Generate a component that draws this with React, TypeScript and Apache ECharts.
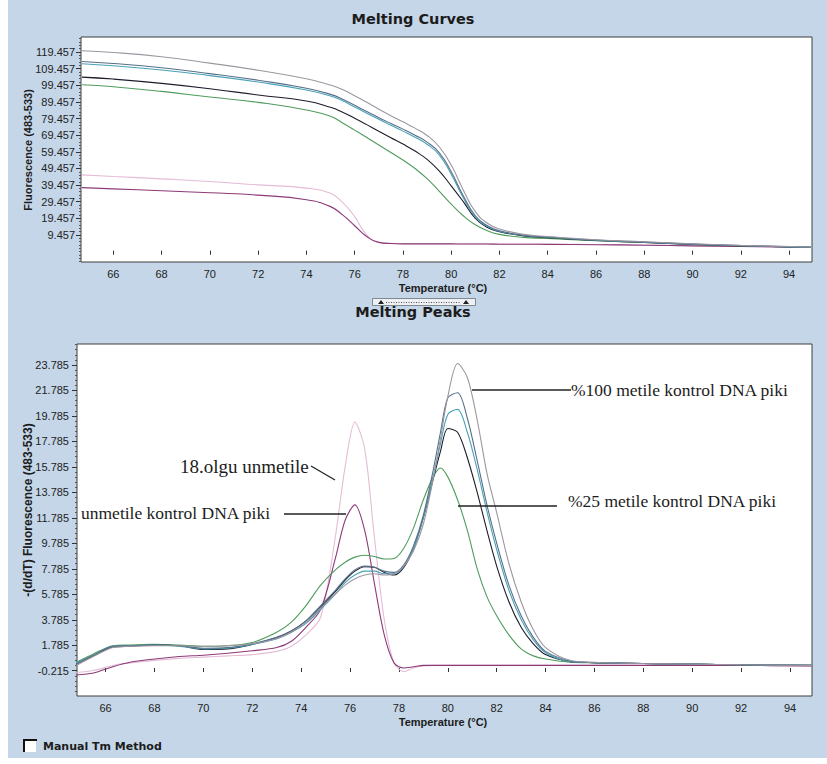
import React, { useEffect, useRef } from "react";
import * as echarts from "echarts";

// ---------- Melting Curves (top) ----------
const tempTop = [64.7, 66, 68, 70, 72, 74, 75, 75.5, 76, 76.5, 77, 77.5, 78, 78.5, 79, 79.5, 80, 80.5, 81, 81.5, 82, 83, 84, 86, 88, 90, 92, 94.9];
const curveGray = [120.2, 119.2, 116.6, 112.8, 108.5, 103.4, 99.6, 96.9, 93.2, 89.2, 85.1, 81.2, 77.5, 73.7, 69.3, 62.5, 51.5, 36.5, 23.5, 16.5, 13.0, 9.8, 8.5, 6.6, 5.4, 4.2, 3.2, 2.2];
const curveSlate = [113.8, 112.6, 110.0, 106.5, 102.5, 97.7, 94.0, 91.1, 87.4, 83.7, 80.0, 76.5, 73.1, 69.4, 65.3, 59.0, 47.5, 33.0, 21.0, 15.0, 12.0, 9.4, 8.2, 6.4, 5.2, 4.0, 3.1, 2.1];
const curveTeal = [112.4, 111.2, 108.7, 105.3, 101.4, 96.6, 93.0, 90.1, 86.4, 82.7, 79.0, 75.4, 71.9, 68.2, 64.0, 57.6, 46.0, 31.8, 20.2, 14.5, 11.7, 9.2, 8.1, 6.3, 5.1, 3.9, 3.0, 2.0];
const curveBlack = [104.4, 103.2, 100.6, 97.4, 93.6, 90.0, 86.2, 83.3, 79.7, 75.8, 71.8, 67.9, 64.1, 59.9, 54.9, 48.0, 39.0, 29.5, 19.5, 14.0, 11.4, 8.9, 7.8, 6.1, 5.0, 3.8, 2.9, 2.0];
const curveGreen = [99.8, 98.6, 95.8, 92.4, 89.2, 84.6, 80.8, 76.8, 72.5, 68.1, 63.6, 59.1, 54.5, 49.4, 43.3, 35.8, 28.0, 21.0, 15.6, 12.0, 9.8, 8.0, 7.4, 6.0, 4.9, 3.8, 2.9, 2.0];
const curvePink = [45.6, 44.6, 43.2, 41.6, 39.6, 37.6, 34.5, 29.0, 20.5, 9.5, 5.0, 4.4, 4.2, 4.2, 4.2, 4.2, 4.2, 4.1, 4.1, 4.1, 4.0, 4.0, 3.9, 3.7, 3.4, 3.0, 2.6, 2.1];
const curvePurple = [37.9, 37.2, 36.0, 34.8, 33.4, 30.6, 26.5, 21.5, 15.0, 8.5, 5.0, 4.3, 4.1, 4.1, 4.1, 4.1, 4.1, 4.0, 4.0, 4.0, 3.9, 3.9, 3.8, 3.6, 3.3, 2.9, 2.5, 2.0];

// ---------- Melting Peaks (bottom) ----------
const tempBot = [64.8, 65.5, 66.3, 67, 68, 69, 70, 71, 72, 73, 73.6, 74.2, 74.8, 75.4, 75.8, 76.2, 76.6, 77, 77.4, 77.8, 78.2, 78.6, 79, 79.4, 79.7, 80, 80.4, 80.8, 81.2, 81.6, 82, 82.5, 83, 83.5, 84, 85, 86, 88, 90, 92, 94.9];
const peakGray = [0.2, 0.9, 1.6, 1.7, 1.75, 1.75, 1.7, 1.75, 1.9, 2.3, 2.8, 3.6, 4.7, 5.8, 6.5, 7.0, 7.3, 7.4, 7.3, 7.4, 8.0, 9.2, 11.3, 14.8, 18.0, 21.3, 23.9, 22.8, 19.5, 15.3, 12.2, 8.2, 5.2, 3.0, 1.6, 0.6, 0.45, 0.35, 0.3, 0.25, 0.2];
const peakSlate = [0.3, 1.0, 1.7, 1.75, 1.8, 1.75, 1.55, 1.6, 1.9, 2.4, 2.9, 3.7, 4.9, 6.1, 7.0, 7.7, 8.0, 7.9, 7.6, 7.5, 8.1, 9.6, 12.0, 15.5, 18.5, 21.2, 21.6, 19.6, 16.3, 12.8, 9.8, 6.5, 4.1, 2.4, 1.3, 0.55, 0.42, 0.35, 0.3, 0.25, 0.2];
const peakTeal = [0.4, 1.0, 1.7, 1.75, 1.8, 1.7, 1.5, 1.55, 1.85, 2.3, 2.8, 3.5, 4.6, 5.8, 6.7, 7.3, 7.6, 7.6, 7.4, 7.4, 8.0, 9.4, 11.8, 15.0, 17.6, 19.9, 20.3, 18.5, 15.6, 12.3, 9.3, 6.1, 3.8, 2.2, 1.2, 0.5, 0.42, 0.35, 0.3, 0.25, 0.2];
const peakBlack = [0.3, 0.95, 1.65, 1.7, 1.8, 1.75, 1.45, 1.5, 1.85, 2.4, 2.9, 3.7, 4.8, 6.0, 6.9, 7.6, 7.95, 7.9, 7.5, 7.3, 7.9, 9.4, 11.8, 14.8, 17.0, 18.8, 18.5, 16.5, 13.8, 10.8, 8.0, 5.2, 3.2, 1.9, 1.05, 0.5, 0.42, 0.35, 0.3, 0.25, 0.2];
const peakGreen = [0.45, 1.1, 1.75, 1.8, 1.85, 1.8, 1.7, 1.75, 2.0, 2.8, 3.6, 4.9, 6.5, 7.7, 8.3, 8.7, 8.85, 8.75, 8.55, 8.6, 9.4, 11.0, 13.2, 15.0, 15.7, 15.0, 13.2, 10.8, 7.8, 5.6, 4.1, 2.6, 1.5, 0.95, 0.7, 0.45, 0.4, 0.35, 0.3, 0.25, 0.2];
const peakPink = [-0.35, -0.2, 0.2, 0.4, 0.6, 0.75, 0.85, 0.95, 1.05, 1.3, 1.7, 2.6, 4.0, 10.3, 15.8, 19.3, 17.2, 10.2, 3.8, 0.4, -0.3, 0.0, 0.15, 0.2, 0.2, 0.2, 0.2, 0.2, 0.2, 0.2, 0.2, 0.2, 0.2, 0.2, 0.2, 0.2, 0.2, 0.2, 0.2, 0.2, 0.15];
const peakPurple = [-0.55, -0.4, 0.1, 0.45, 0.7, 0.9, 1.0, 1.15, 1.35, 1.6, 2.1, 3.2, 4.6, 8.6, 11.6, 12.8, 10.8, 6.6, 2.6, 0.4, 0.0, 0.1, 0.2, 0.2, 0.2, 0.2, 0.2, 0.2, 0.2, 0.2, 0.2, 0.2, 0.2, 0.2, 0.2, 0.2, 0.2, 0.2, 0.2, 0.2, 0.15];

// ---------- ticks ----------
const xTicks = [66, 68, 70, 72, 74, 76, 78, 80, 82, 84, 86, 88, 90, 92, 94];
const yTicksTop = [9.457, 19.457, 29.457, 39.457, 49.457, 59.457, 69.457, 79.457, 89.457, 99.457, 109.457, 119.457];
const yTicksBot = [-0.215, 1.785, 3.785, 5.785, 7.785, 9.785, 11.785, 13.785, 15.785, 17.785, 19.785, 21.785, 23.785];

const COLORS = {
  gray: "#9d96a0",
  slate: "#56708a",
  teal: "#4aa2b6",
  black: "#1d1d2c",
  green: "#4f9c5c",
  pink: "#e4bcd6",
  purple: "#8c3a78",
};

const TOP = { xMin: 64.66, xMax: 94.95, yMin: -6.8, yMax: 128.5 };
const BOT = { xMin: 64.83, xMax: 94.9, yMin: -2.2, yMax: 25.43 };

function minorTicks(start: number, step: number, lo: number, hi: number) {
  const out: number[] = [];
  for (let k = -200; k <= 200; k++) {
    const v = +(start + step * k).toFixed(4);
    if (v > lo && v < hi) out.push(v);
  }
  return out;
}

const labelFont = { fontFamily: "Liberation Sans", fontSize: 11, color: "#222" };

function xAxis(grid: number, r: { xMin: number; xMax: number }) {
  return {
    type: "value",
    gridIndex: grid,
    min: r.xMin,
    max: r.xMax,
    axisLine: { show: false },
    splitLine: { show: false },
    axisTick: { show: true, customValues: xTicks, length: 4, lineStyle: { color: "#333" } },
    axisLabel: { customValues: xTicks, margin: 6, ...labelFont, formatter: (v: number) => String(v) },
  };
}

function yAxes(grid: number, r: { yMin: number; yMax: number }, ticks: number[], minorStep: number, margin: number) {
  return [
    {
      type: "value",
      gridIndex: grid,
      min: r.yMin,
      max: r.yMax,
      axisLine: { show: false },
      splitLine: { show: false },
      axisTick: { show: true, customValues: ticks, length: 5, lineStyle: { color: "#333" } },
      axisLabel: { customValues: ticks, margin, ...labelFont, formatter: (v: number) => v.toFixed(3) },
    },
    {
      type: "value",
      gridIndex: grid,
      min: r.yMin,
      max: r.yMax,
      position: "left",
      axisLine: { show: false },
      splitLine: { show: false },
      axisLabel: { show: false },
      axisTick: {
        show: true,
        customValues: minorTicks(ticks[0], minorStep, r.yMin, r.yMax).filter(
          (v) => !ticks.some((t) => Math.abs(t - v) < 1e-6)
        ),
        length: 2,
        lineStyle: { color: "#555" },
      },
    },
  ];
}

function line(xs: number[], ys: number[], color: string, xi: number, yi: number, smooth: number) {
  return {
    type: "line",
    xAxisIndex: xi,
    yAxisIndex: yi,
    data: xs.map((x, i) => [x, ys[i]]),
    showSymbol: false,
    symbol: "none",
    smooth,
    silent: true,
    lineStyle: { width: 1.1, color },
    itemStyle: { color },
  };
}

function txt(text: string, x: number, y: number, font: string, align = "left", extra: any = {}) {
  return {
    type: "text",
    x,
    y,
    z: 100,
    ...extra,
    style: {
      text,
      font,
      fill: "#1c1c1c",
      align,
      textAlign: align,
      verticalAlign: "middle",
      textVerticalAlign: "middle",
    },
  };
}

function seg(x1: number, y1: number, x2: number, y2: number, w = 1.3, color = "#222") {
  return { type: "line", z: 100, shape: { x1, y1, x2, y2 }, style: { stroke: color, lineWidth: w } };
}

const titleFont = 'bold 14.5px "DejaVu Sans"';
const axisNameFont = 'bold 11px "Liberation Sans"';
const serif = (s: number) => `${s}px "Liberation Serif"`;

const option = {
  animation: false,
  backgroundColor: "transparent",
  grid: [
    { left: 81, top: 37, width: 731, height: 225, show: true, backgroundColor: "#ffffff", borderColor: "#3e3e3e", borderWidth: 1 },
    { left: 77, top: 344, width: 735, height: 352, show: true, backgroundColor: "#ffffff", borderColor: "#3e3e3e", borderWidth: 1 },
  ],
  xAxis: [xAxis(0, TOP), xAxis(1, BOT)],
  yAxis: [...yAxes(0, TOP, yTicksTop, 2, 6), ...yAxes(1, BOT, yTicksBot, 0.4, 8)],
  series: [
    line(tempTop, curvePink, COLORS.pink, 0, 0, 0.5),
    line(tempTop, curvePurple, COLORS.purple, 0, 0, 0.5),
    line(tempTop, curveGreen, COLORS.green, 0, 0, 0.5),
    line(tempTop, curveBlack, COLORS.black, 0, 0, 0.5),
    line(tempTop, curveTeal, COLORS.teal, 0, 0, 0.5),
    line(tempTop, curveSlate, COLORS.slate, 0, 0, 0.5),
    line(tempTop, curveGray, COLORS.gray, 0, 0, 0.5),
    line(tempBot, peakPink, COLORS.pink, 1, 2, 0.3),
    line(tempBot, peakPurple, COLORS.purple, 1, 2, 0.3),
    line(tempBot, peakGreen, COLORS.green, 1, 2, 0.3),
    line(tempBot, peakBlack, COLORS.black, 1, 2, 0.3),
    line(tempBot, peakTeal, COLORS.teal, 1, 2, 0.3),
    line(tempBot, peakSlate, COLORS.slate, 1, 2, 0.3),
    line(tempBot, peakGray, COLORS.gray, 1, 2, 0.3),
  ],
  graphic: [
    // titles
    txt("Melting Curves", 413, 19, titleFont, "center"),
    txt("Melting Peaks", 413, 312, titleFont, "center"),
    // axis names
    txt("Temperature (°C)", 443, 288, axisNameFont, "center"),
    txt("Temperature (°C)", 443, 722, axisNameFont, "center"),
    txt("Fluorescence (483-533)", 28, 150, axisNameFont, "center", { rotation: Math.PI / 2 }),
    txt("-(d/dT) Fluorescence (483-533)", 28, 510, 'bold 12px "Liberation Sans"', "center", { rotation: Math.PI / 2 }),
    // scroll widget
    { type: "rect", z: 100, shape: { x: 372.5, y: 298.5, width: 103, height: 7 }, style: { fill: "#eef1f4", stroke: "#808890", lineWidth: 1 } },
    { type: "polygon", z: 101, shape: { points: [[378, 304], [384, 304], [381, 300]] }, style: { fill: "#222" } },
    { type: "polygon", z: 101, shape: { points: [[463, 304], [469, 304], [466, 300]] }, style: { fill: "#222" } },
    { type: "line", z: 101, shape: { x1: 386, y1: 302.5, x2: 461, y2: 302.5 }, style: { stroke: "#555", lineWidth: 1, lineDash: [1, 1.5] } },
    // checkbox
    { type: "rect", z: 100, shape: { x: 23, y: 739, width: 13, height: 13 }, style: { fill: "#ffffff" } },
    { type: "polyline", z: 101, shape: { points: [[24, 752], [24, 740], [37, 740]] }, style: { stroke: "#111", lineWidth: 2, fill: null } },
    txt("Manual Tm Method", 43, 746, 'bold 11px "DejaVu Sans"', "left"),
    // annotations
    txt("18.olgu unmetile", 180, 466, serif(19)),
    seg(311, 466, 335, 480),
    txt("unmetile kontrol DNA piki", 81, 513, serif(17.5)),
    seg(284, 514, 346, 514),
    txt("%100 metile kontrol DNA piki", 571, 390, serif(17.5)),
    seg(472, 390, 571, 390),
    txt("%25 metile kontrol DNA piki", 568, 501, serif(17.5)),
    seg(458, 506, 557, 506),
  ],
};

export default function App() {
  const ref = useRef<HTMLDivElement>(null);
  useEffect(() => {
    if (!ref.current) return;
    const chart = echarts.init(ref.current, null, { renderer: "svg" });
    chart.setOption(option as any);
    return () => chart.dispose();
  }, []);
  return (
    <div style={{ position: "fixed", left: 0, top: 0, width: 827, height: 764, background: "#ffffff", overflow: "hidden" }}>
      <div style={{ position: "absolute", left: 8, top: 0, width: 819, height: 758, background: "#c4d6e8" }} />
      <div ref={ref} style={{ position: "absolute", left: 0, top: 0, width: 827, height: 764 }} />
    </div>
  );
}
